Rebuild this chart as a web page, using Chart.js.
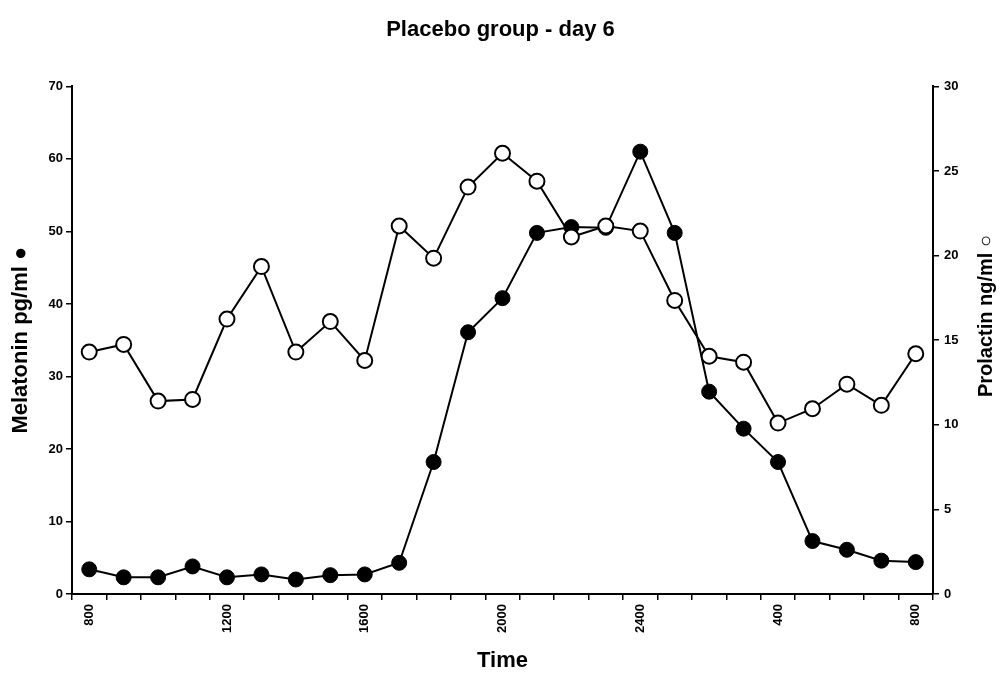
<!DOCTYPE html>
<html>
<head>
<meta charset="utf-8">
<script src="https://cdn.jsdelivr.net/npm/chart.js@4/dist/chart.umd.min.js"></script>
<style>
  html, body { margin: 0; padding: 0; background: #fff; }
  #wrap { width: 1001px; height: 679px; }
</style>
</head>
<body>
<div id="wrap"><canvas id="c" width="1001" height="679"></canvas></div>
<script>
const timeLabels = ['800','900','1000','1100','1200','1300','1400','1500','1600','1700','1800','1900','2000','2100','2200','2300','2400','100','200','300','400','500','600','700','800'];
const melatonin = [3.4, 2.3, 2.3, 3.8, 2.3, 2.7, 2.0, 2.6, 2.7, 4.3, 18.2, 36.1, 40.8, 49.8, 50.6, 50.5, 61.0, 49.8, 27.9, 22.8, 18.2, 7.3, 6.1, 4.6, 4.4];
const prolactin = [14.3, 14.75, 11.4, 11.5, 16.25, 19.35, 14.3, 16.1, 13.8, 21.75, 19.85, 24.05, 26.05, 24.4, 21.1, 21.75, 21.45, 17.35, 14.05, 13.7, 10.1, 10.95, 12.4, 11.15, 14.2];
const leftTicks = [0, 10, 20, 30, 40, 50, 60, 70];
const rightTicks = [0, 5, 10, 15, 20, 25, 30];

const FONT = "'Liberation Sans', Arial, Helvetica, sans-serif";

const rightTitle = {
  id: 'rightTitle',
  afterDraw(chart) {
    const ctx = chart.ctx;
    ctx.save();
    ctx.translate(986, 316);
    ctx.rotate(-Math.PI / 2);
    ctx.font = "bold 20px " + FONT;
    ctx.fillStyle = '#000';
    ctx.textAlign = 'center';
    ctx.textBaseline = 'middle';
    ctx.fillText('Prolactin ng/ml \u25CB', 0, 0);
    ctx.restore();
  }
};

new Chart(document.getElementById('c'), {
  type: 'line',
  data: {
    labels: timeLabels,
    datasets: [
      {
        label: 'Prolactin ng/ml',
        data: prolactin,
        yAxisID: 'y1',
        order: 0,
        borderColor: '#000',
        borderWidth: 2,
        pointRadius: 7.5,
        pointBorderWidth: 2,
        pointBackgroundColor: '#fff',
        pointBorderColor: '#000',
        tension: 0
      },
      {
        label: 'Melatonin pg/ml',
        data: melatonin,
        yAxisID: 'y',
        order: 1,
        borderColor: '#000',
        borderWidth: 2,
        pointRadius: 7.5,
        pointBorderWidth: 1,
        pointBackgroundColor: '#000',
        pointBorderColor: '#000',
        tension: 0
      }
    ]
  },
  options: {
    responsive: false,
    animation: false,
    layout: { padding: 0 },
    plugins: {
      legend: { display: false },
      tooltip: { enabled: false },
      title: {
        display: true,
        text: 'Placebo group - day 6',
        color: '#000',
        font: { family: FONT, size: 22, weight: 'bold' },
        padding: { top: 17, bottom: 43 }
      }
    },
    scales: {
      x: {
        type: 'category',
        offset: true,
        grid: { offset: true, drawOnChartArea: false, color: '#000', lineWidth: 1.5, tickLength: 6 },
        border: { color: '#000', width: 2 },
        ticks: {
          autoSkip: false,
          maxRotation: 90,
          minRotation: 90,
          padding: 4,
          color: '#000',
          font: { family: FONT, size: 13, weight: 'bold' },
          callback: (v, i) => (i % 4 === 0 ? timeLabels[i] : '')
        },
        title: {
          display: true,
          text: 'Time',
          color: '#000',
          font: { family: FONT, size: 22, weight: 'bold' },
          padding: { top: 4, bottom: 5 }
        },
        afterFit: s => { s.height = 85; }
      },
      y: {
        position: 'left',
        min: 0,
        max: 70,
        afterBuildTicks: s => { s.ticks = leftTicks.map(v => ({ value: v })); },
        grid: { drawOnChartArea: false, color: '#000', lineWidth: 1.5, tickLength: 6 },
        border: { color: '#000', width: 2 },
        ticks: {
          padding: 3,
          color: '#000',
          font: { family: FONT, size: 13, weight: 'bold' }
        },
        title: {
          display: true,
          text: 'Melatonin pg/ml \u25CF',
          color: '#000',
          font: { family: FONT, size: 22, weight: 'bold' },
          padding: { top: 8, bottom: 4 }
        },
        afterFit: s => { s.width = 72; }
      },
      y1: {
        position: 'right',
        min: 0,
        max: 30,
        afterBuildTicks: s => { s.ticks = rightTicks.map(v => ({ value: v })); },
        grid: { drawOnChartArea: false, color: '#000', lineWidth: 1.5, tickLength: 6 },
        border: { color: '#000', width: 2 },
        ticks: {
          padding: 5,
          color: '#000',
          font: { family: FONT, size: 13, weight: 'bold' }
        },
        title: { display: false },
        afterFit: s => { s.width = 68; }
      }
    }
  },
  plugins: [rightTitle]
});
</script>
</body>
</html>
